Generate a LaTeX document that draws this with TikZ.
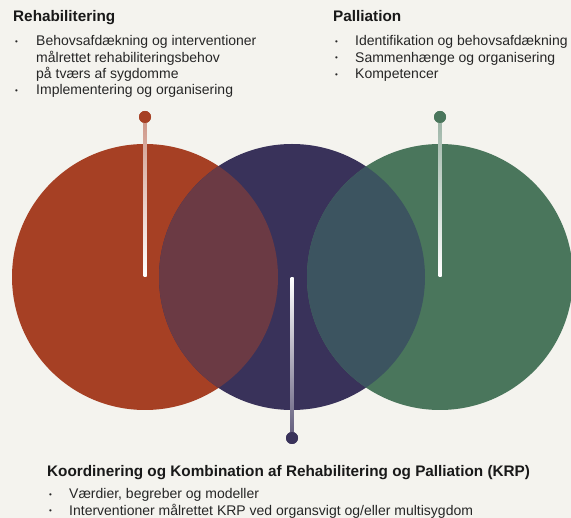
\documentclass[tikz,border=0pt]{standalone}
\usepackage{fontspec}
\setmainfont{Liberation Sans}
\usepackage{array}
\usetikzlibrary{positioning}
\definecolor{bg}{HTML}{F4F3EE}
\definecolor{rehab}{HTML}{A64024}
\definecolor{krp}{HTML}{39325A}
\definecolor{pall}{HTML}{4A765C}
\definecolor{rehabkrp}{HTML}{6B3A44}
\definecolor{pallkrp}{HTML}{3C5460}
\newcommand{\punkt}{\hspace*{2pt}\raisebox{1.5pt}{\fontsize{8}{8}\selectfont\textbullet}}
\newcommand{\overskrift}[1]{{\fontsize{15.3}{15}\selectfont\bfseries #1}}

\begin{document}
\begin{tikzpicture}[x=1pt, y=-1pt,
    liste/.style={anchor=base west, inner sep=0pt, font=\fontsize{14}{16.3}\selectfont, text=black!85},
    titel/.style={anchor=base west, inner sep=0pt, text=black!90},
    pin/.style={circle, inner sep=0pt, minimum size=12pt}]
    \fill[bg] (0, 0) rectangle (571, 518);
    \useasboundingbox (0, 0) rectangle (571, 518);

    \fill[rehab] (145, 277) circle (133);
    \fill[krp] (292, 277) circle (133);
    \fill[pall] (440, 277) circle (133);
    \begin{scope}
        \clip (145, 277) circle (133);
        \fill[rehabkrp] (292, 277) circle (133);
    \end{scope}
    \begin{scope}
        \clip (440, 277) circle (133);
        \fill[pallkrp] (292, 277) circle (133);
    \end{scope}

    \node[pin, fill=rehab] (pinR) at (145, 117) {};
    \node[pin, fill=pall] (pinP) at (440, 117) {};
    \node[pin, fill=krp] (pinK) at (292, 438) {};
    \coordinate (endR) at (145, 277);
    \coordinate (endP) at (440, 277);
    \coordinate (endK) at (292, 278);
    \shade[top color=rehab!55!white, bottom color=white] ([xshift=-1.5pt]pinR.center) rectangle ([xshift=1.5pt]endR);
    \shade[top color=pall!55!white, bottom color=white] ([xshift=-1.5pt]pinP.center) rectangle ([xshift=1.5pt]endP);
    \shade[top color=white, bottom color=krp!80!white] ([xshift=-1.5pt]endK) rectangle ([xshift=1.5pt]pinK.center);
    \node[pin, fill=rehab] at (pinR) {};
    \node[pin, fill=pall] at (pinP) {};
    \node[pin, fill=krp] at (pinK) {};

    \node[titel] (tR) at (13, 22) {\overskrift{Rehabilitering}};
    \node[liste] (lR) at (13, 46) {\begin{tabular}[t]{@{}p{23pt}@{}l@{}}
        \punkt & Behovsafdækning og interventioner\\
               & målrettet rehabiliteringsbehov\\
               & på tværs af sygdomme\\
        \punkt & Implementering og organisering
    \end{tabular}};

    \node[titel] (tP) at (333, 22) {\overskrift{Palliation}};
    \node[liste] (lP) at (333, 46) {\begin{tabular}[t]{@{}p{22pt}@{}l@{}}
        \punkt & Identifikation og behovsafdækning\\
        \punkt & Sammenhænge og organisering\\
        \punkt & Kompetencer
    \end{tabular}};

    \node[titel] (tK) at (47, 477) {\overskrift{Koordinering og Kombination af Rehabilitering og Palliation (KRP)}};
    \node[liste] (lK) at (47, 499) {\begin{tabular}[t]{@{}p{22pt}@{}l@{}}
        \punkt & Værdier, begreber og modeller\\
        \punkt & Interventioner målrettet KRP ved organsvigt og/eller multisygdom
    \end{tabular}};
\end{tikzpicture}
\end{document}
